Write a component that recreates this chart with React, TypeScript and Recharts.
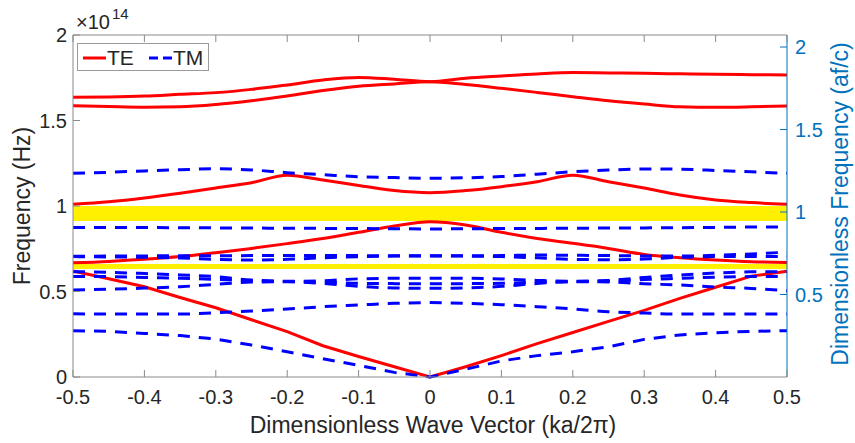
import { LineChart, Line, XAxis, YAxis, ReferenceArea } from 'recharts';

// wave vector samples (ka/2pi)
const kValues = [
  -0.5, -0.45, -0.4, -0.35, -0.3, -0.25, -0.2, -0.15, -0.1, -0.05, 0,
  0.05, 0.1, 0.15, 0.2, 0.25, 0.3, 0.35, 0.4, 0.45, 0.5,
];
const xTicks = [-0.5, -0.4, -0.3, -0.2, -0.1, 0, 0.1, 0.2, 0.3, 0.4, 0.5];
const yTicks = [0, 0.5, 1, 1.5, 2];
const rightTicks = [0.5, 1, 1.5, 2];

// TE bands, frequency in 1e14 Hz
const te1 = [0.62, 0.575, 0.528, 0.465, 0.405, 0.335, 0.265, 0.183, 0.12, 0.06, 0, 0.06, 0.125, 0.195, 0.26, 0.325, 0.39, 0.46, 0.525, 0.59, 0.618];
const te2 = [0.668, 0.676, 0.688, 0.704, 0.727, 0.752, 0.78, 0.81, 0.846, 0.883, 0.908, 0.889, 0.846, 0.81, 0.782, 0.752, 0.717, 0.698, 0.684, 0.674, 0.67];
const te3 = [1.01, 1.025, 1.047, 1.074, 1.105, 1.136, 1.18, 1.152, 1.12, 1.09, 1.078, 1.09, 1.113, 1.142, 1.18, 1.142, 1.105, 1.064, 1.035, 1.02, 1.01];
const te4 = [1.587, 1.582, 1.578, 1.58, 1.593, 1.615, 1.643, 1.675, 1.7, 1.714, 1.727, 1.71, 1.688, 1.664, 1.639, 1.615, 1.596, 1.58, 1.577, 1.58, 1.585];
const te5 = [1.636, 1.638, 1.643, 1.653, 1.663, 1.682, 1.708, 1.737, 1.752, 1.741, 1.727, 1.747, 1.76, 1.772, 1.78, 1.778, 1.776, 1.773, 1.77, 1.768, 1.766];

// TM bands
const tm1 = [0.271, 0.267, 0.255, 0.242, 0.222, 0.187, 0.148, 0.107, 0.068, 0.027, 0, 0.045, 0.094, 0.125, 0.148, 0.177, 0.22, 0.246, 0.259, 0.267, 0.271];
const tm2 = [0.37, 0.368, 0.368, 0.368, 0.376, 0.386, 0.398, 0.411, 0.421, 0.431, 0.435, 0.431, 0.423, 0.411, 0.398, 0.382, 0.374, 0.368, 0.368, 0.368, 0.368];
const tm3 = [0.509, 0.513, 0.52, 0.528, 0.542, 0.555, 0.557, 0.547, 0.53, 0.521, 0.519, 0.521, 0.53, 0.547, 0.557, 0.556, 0.545, 0.538, 0.526, 0.518, 0.504];
const tm4 = [0.587, 0.587, 0.582, 0.577, 0.571, 0.563, 0.558, 0.555, 0.548, 0.546, 0.545, 0.546, 0.548, 0.555, 0.558, 0.56, 0.57, 0.577, 0.584, 0.587, 0.587];
const tm5 = [0.616, 0.612, 0.605, 0.597, 0.587, 0.567, 0.56, 0.563, 0.574, 0.577, 0.577, 0.577, 0.573, 0.565, 0.56, 0.565, 0.582, 0.596, 0.608, 0.615, 0.616];
const tm6 = [0.704, 0.702, 0.7, 0.696, 0.688, 0.684, 0.688, 0.697, 0.704, 0.707, 0.708, 0.707, 0.704, 0.697, 0.688, 0.686, 0.69, 0.7, 0.704, 0.704, 0.704];
const tm7 = [0.706, 0.707, 0.708, 0.709, 0.709, 0.71, 0.711, 0.711, 0.71, 0.709, 0.709, 0.709, 0.71, 0.713, 0.712, 0.71, 0.708, 0.707, 0.712, 0.72, 0.73];
const tm8 = [0.875, 0.875, 0.874, 0.873, 0.872, 0.871, 0.87, 0.869, 0.868, 0.867, 0.866, 0.867, 0.868, 0.869, 0.87, 0.871, 0.872, 0.873, 0.875, 0.877, 0.878];
const tm9 = [1.191, 1.197, 1.205, 1.212, 1.218, 1.211, 1.195, 1.183, 1.171, 1.166, 1.162, 1.165, 1.172, 1.186, 1.2, 1.21, 1.217, 1.215, 1.208, 1.2, 1.191];

// band gaps (yellow)
const gapLow = [0.632, 0.912];
const gapHigh = [0.661, 1.0];

const teBands = [te1, te2, te3, te4, te5];
const tmBands = [tm1, tm2, tm3, tm4, tm5, tm6, tm7, tm8, tm9];
// the V-shaped bands through the origin stay straight
const teKinked = [true, false, false, false, false];
const tmKinked = [true, false, false, false, false, false, false, false, false];

const rows = kValues.map((k, i) => {
  const r: Record<string, number> = { k };
  teBands.forEach((b, j) => (r['te' + j] = b[i]));
  tmBands.forEach((b, j) => (r['tm' + j] = b[i]));
  return r;
});

const AXIS = '#8a8a8a';
const TXT = '#262626';
const BLUE_AX = '#0072BD';
const FONT = '"Liberation Sans", Arial, Helvetica, sans-serif';

const fmt = (v: number) => String(Math.round(v * 100) / 100);

function BottomTick({ x, y, payload }: any) {
  return (
    <g>
      <line x1={x} y1={y} x2={x} y2={y - 7} stroke={AXIS} />
      <text x={x} y={y + 27} textAnchor="middle" fontSize={20} fill={TXT}>
        {fmt(payload.value)}
      </text>
    </g>
  );
}

function TopTick({ x, y }: any) {
  return <line x1={x} y1={y} x2={x} y2={y + 7} stroke={AXIS} />;
}

function LeftTick({ x, y, payload }: any) {
  return (
    <g>
      <line x1={x} y1={y} x2={x + 7} y2={y} stroke={AXIS} />
      <text x={x - 6} y={y + 7} textAnchor="end" fontSize={20} fill={TXT}>
        {fmt(payload.value)}
      </text>
    </g>
  );
}

function RightTick({ x, y, payload }: any) {
  return (
    <g>
      <line x1={x} y1={y} x2={x - 7} y2={y} stroke={BLUE_AX} />
      <text x={x + 8} y={y + 7} textAnchor="start" fontSize={20} fill={BLUE_AX}>
        {fmt(payload.value)}
      </text>
    </g>
  );
}

function Overlay() {
  return (
    <svg
      width={855}
      height={443}
      style={{ position: 'absolute', left: 0, top: 0, pointerEvents: 'none', fontFamily: FONT }}
    >
      <text x={76} y={29} fontSize={20} fill={TXT}>
        ×10
      </text>
      <text x={112} y={19} fontSize={15} fill={TXT}>
        14
      </text>
      <text x={30} y={206} fontSize={23} fill={TXT} textAnchor="middle" transform="rotate(-90 30 206)">
        Frequency (Hz)
      </text>
      <text x={848} y={204} fontSize={23} fill={BLUE_AX} textAnchor="middle" transform="rotate(-90 848 204)">
        Dimensionless Frequency (af/c)
      </text>
      <text x={433} y={433} fontSize={23} fill={TXT} textAnchor="middle">
        Dimensionless Wave Vector (ka/2π)
      </text>
      <rect x={77.5} y={43.5} width={131} height={27} fill="#fff" stroke="#9a9a9a" />
      <line x1={83} y1={58} x2={106} y2={58} stroke="#ff0000" strokeWidth={3} />
      <text x={107} y={65} fontSize={21} fill={TXT}>
        TE
      </text>
      <line x1={149} y1={58} x2={172} y2={58} stroke="#0000ff" strokeWidth={3} strokeDasharray="9 5" />
      <text x={173} y={65} fontSize={21} fill={TXT}>
        TM
      </text>
    </svg>
  );
}

export default function App() {
  return (
    <div style={{ position: 'absolute', left: 0, top: 0, width: 855, height: 443, background: '#fff', fontFamily: FONT }}>
      <LineChart width={855} height={443} data={rows} margin={{ top: 0, right: 0, bottom: 0, left: 0 }}>
        <XAxis
          xAxisId="bottom"
          dataKey="k"
          type="number"
          domain={[-0.5, 0.5]}
          ticks={xTicks}
          interval={0}
          height={66}
          tickSize={0}
          tickMargin={0}
          tickLine={false}
          axisLine={{ stroke: AXIS }}
          tick={<BottomTick />}
        />
        <XAxis
          xAxisId="top"
          orientation="top"
          dataKey="k"
          type="number"
          domain={[-0.5, 0.5]}
          ticks={xTicks}
          interval={0}
          height={35}
          tickSize={0}
          tickMargin={0}
          tickLine={false}
          axisLine={{ stroke: AXIS }}
          tick={<TopTick />}
        />
        <YAxis
          yAxisId="left"
          type="number"
          domain={[0, 2]}
          ticks={yTicks}
          interval={0}
          width={73}
          tickSize={0}
          tickMargin={0}
          tickLine={false}
          axisLine={{ stroke: AXIS }}
          tick={<LeftTick />}
        />
        <YAxis
          yAxisId="right"
          orientation="right"
          type="number"
          domain={[0, 2.073]}
          allowDataOverflow
          ticks={rightTicks}
          interval={0}
          width={68}
          tickSize={0}
          tickMargin={0}
          tickLine={false}
          axisLine={{ stroke: BLUE_AX }}
          tick={<RightTick />}
        />
        {gapLow.map((lo, i) => (
          <ReferenceArea
            key={'gap' + i}
            xAxisId="bottom"
            yAxisId="left"
            x1={-0.5}
            x2={0.5}
            y1={lo}
            y2={gapHigh[i]}
            fill="#FFF000"
            fillOpacity={1}
            stroke="none"
          />
        ))}
        {teBands.map((_, j) => (
          <Line
            key={'te' + j}
            xAxisId="bottom"
            yAxisId="left"
            dataKey={'te' + j}
            type={teKinked[j] ? 'linear' : 'monotone'}
            stroke="#ff0000"
            strokeWidth={3}
            dot={false}
            activeDot={false}
            isAnimationActive={false}
          />
        ))}
        {tmBands.map((_, j) => (
          <Line
            key={'tm' + j}
            xAxisId="bottom"
            yAxisId="left"
            dataKey={'tm' + j}
            type={tmKinked[j] ? 'linear' : 'monotone'}
            stroke="#0000ff"
            strokeWidth={3}
            strokeDasharray="12 9"
            dot={false}
            activeDot={false}
            isAnimationActive={false}
          />
        ))}
      </LineChart>
      <Overlay />
    </div>
  );
}
